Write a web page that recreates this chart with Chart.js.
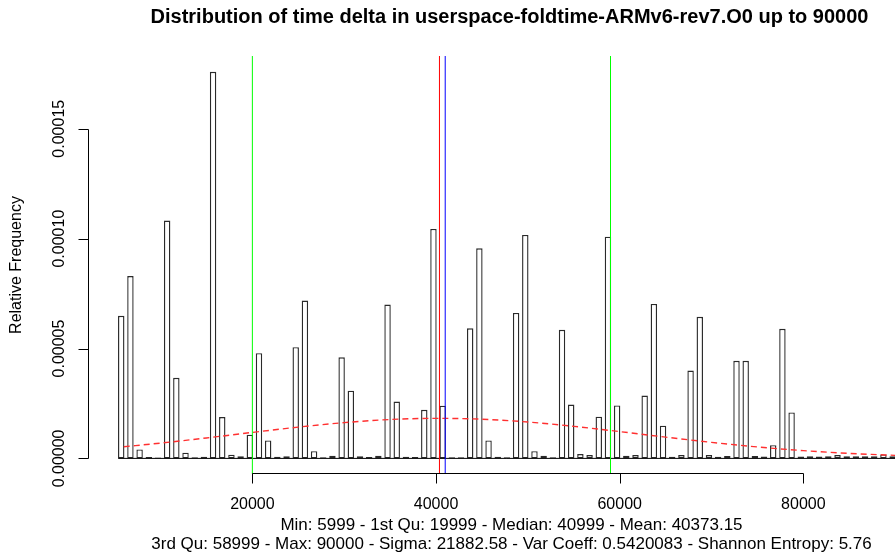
<!DOCTYPE html>
<html>
<head>
<meta charset="utf-8">
<script src="https://cdn.jsdelivr.net/npm/chart.js@4/dist/chart.umd.min.js"></script>
<style>
  html, body { margin: 0; padding: 0; overflow: hidden; background: #fff; }
</style>
</head>
<body>
<canvas id="histchart" width="960" height="555"></canvas>
<script>
// histogram of time delta, one bar per 1000 units (bar mid points)
const binMids = [
  5720, 6720, 7720, 8720, 9720, 10720, 11720, 12720, 13720, 14720,
  15720, 16720, 17720, 18720, 19720, 20720, 21720, 22720, 23720, 24720,
  25720, 26720, 27720, 28720, 29720, 30720, 31720, 32720, 33720, 34720,
  35720, 36720, 37720, 38720, 39720, 40720, 41720, 42720, 43720, 44720,
  45720, 46720, 47720, 48720, 49720, 50720, 51720, 52720, 53720, 54720,
  55720, 56720, 57720, 58720, 59720, 60720, 61720, 62720, 63720, 64720,
  65720, 66720, 67720, 68720, 69720, 70720, 71720, 72720, 73720, 74720,
  75720, 76720, 77720, 78720, 79720, 80720, 81720, 82720, 83720, 84720,
  85720, 86720, 87720, 88720, 89720
]
const relFreq = [
  6.49e-5, 8.30e-5, 4.1e-6, 6e-7, 4e-7, 1.082e-4, 3.67e-5, 2.6e-6, 5e-7, 7e-7,
  1.759e-4, 1.88e-5, 1.7e-6, 1.0e-6, 1.08e-5, 4.79e-5, 8.2e-6, 8e-7, 1.0e-6, 5.06e-5,
  7.18e-5, 3.3e-6, 5e-7, 1.2e-6, 4.60e-5, 3.08e-5, 1.0e-6, 6e-7, 1.2e-6, 7.00e-5,
  2.59e-5, 8e-7, 6e-7, 2.21e-5, 1.044e-4, 2.40e-5, 5e-7, 5e-7, 5.92e-5, 9.56e-5,
  8.2e-6, 8e-7, 5e-7, 6.62e-5, 1.017e-4, 3.3e-6, 1.2e-6, 5e-7, 5.85e-5, 2.45e-5,
  2.0e-6, 1.5e-6, 1.90e-5, 1.009e-4, 2.41e-5, 1.2e-6, 1.5e-6, 2.86e-5, 7.03e-5, 1.49e-5,
  8e-7, 1.5e-6, 4.00e-5, 6.44e-5, 1.5e-6, 8e-7, 1.1e-6, 4.44e-5, 4.44e-5, 1.1e-6,
  9e-7, 6.0e-6, 5.90e-5, 2.09e-5, 9e-7, 1.0e-6, 9e-7, 1.0e-6, 1.5e-6, 1.0e-6,
  1.0e-6, 1.0e-6, 1.0e-6, 1.8e-6, 1.0e-6
]

// normal density curve
const curveX = [5999, 10000, 15000, 20000, 25000, 30000, 35000, 40000, 45000,
  50000, 55000, 60000, 65000, 70000, 75000, 80000, 85000, 90000]
const curveY = [5.31e-6, 6.96e-6, 9.31e-6, 1.182e-5, 1.424e-5, 1.629e-5, 1.769e-5, 1.823e-5, 1.783e-5,
  1.655e-5, 1.458e-5, 1.219e-5, 9.68e-6, 7.29e-6, 5.21e-6, 3.54e-6, 2.28e-6, 1.39e-6]

// summary markers
const firstQu = 19999
const thirdQu = 58999
const meanVal = 40373.15
const medianVal = 40999

const xTicks = [20000, 40000, 60000, 80000]
const yTicks = [0, 0.00005, 0.0001, 0.00015]
const yTickLabels = ['0.00000', '0.00005', '0.00010', '0.00015']

const xMin = 2100
const xMax = 93900
const yMin = -0.0000071
const yMax = 0.0001831

const titleText = 'Distribution of time delta in userspace-foldtime-ARMv6-rev7.O0 up to 90000'
const yLabel = 'Relative Frequency'
const subLines = [
  'Min: 5999 - 1st Qu: 19999 - Median: 40999 - Mean: 40373.15',
  '3rd Qu: 58999 - Max: 90000 - Sigma: 21882.58 - Var Coeff: 0.5420083 - Shannon Entropy: 5.76'
]

const FONT = '"Liberation Sans", Arial, Helvetica, sans-serif'

const vline = (x, color) => ({
  type: 'line',
  data: [{ x: x, y: yMin }, { x: x, y: yMax }],
  borderColor: color,
  borderWidth: 1,
  pointRadius: 0,
  order: 0,
})

// R style axes and texts
const rAxes = {
  id: 'rAxes',
  afterDraw(chart) {
    const { ctx, chartArea } = chart
    const xs = chart.scales.x
    const ys = chart.scales.y
    const midX = (chartArea.left + chartArea.right) / 2
    ctx.save()
    ctx.strokeStyle = '#000'
    ctx.fillStyle = '#000'
    ctx.lineWidth = 1

    // y axis
    const ax = Math.round(chartArea.left) + 0.5
    const yTop = ys.getPixelForValue(yTicks[yTicks.length - 1])
    const yBot = ys.getPixelForValue(yTicks[0])
    ctx.beginPath()
    ctx.moveTo(ax, Math.round(yBot) + 0.5)
    ctx.lineTo(ax, Math.round(yTop) + 0.5)
    yTicks.forEach((t) => {
      const py = Math.round(ys.getPixelForValue(t)) + 0.5
      ctx.moveTo(ax, py)
      ctx.lineTo(ax - 10, py)
    })
    ctx.stroke()

    ctx.font = '16px ' + FONT
    ctx.textAlign = 'center'
    ctx.textBaseline = 'alphabetic'
    yTicks.forEach((t, i) => {
      ctx.save()
      ctx.translate(63.5, ys.getPixelForValue(t))
      ctx.rotate(-Math.PI / 2)
      ctx.fillText(yTickLabels[i], 0, 0)
      ctx.restore()
    })

    // x axis
    const ay = Math.round(chartArea.bottom) - 0.5
    const x0 = Math.round(xs.getPixelForValue(xTicks[0])) + 0.5
    const x1 = Math.round(xs.getPixelForValue(xTicks[xTicks.length - 1])) + 0.5
    ctx.beginPath()
    ctx.moveTo(x0, ay)
    ctx.lineTo(x1, ay)
    xTicks.forEach((t) => {
      const px = Math.round(xs.getPixelForValue(t)) + 0.5
      ctx.moveTo(px, ay)
      ctx.lineTo(px, ay + 10)
    })
    ctx.stroke()
    xTicks.forEach((t) => {
      ctx.fillText(String(t), xs.getPixelForValue(t), 509)
    })

    // y label
    ctx.save()
    ctx.translate(21, (chartArea.top + chartArea.bottom) / 2)
    ctx.rotate(-Math.PI / 2)
    ctx.fillText(yLabel, 0, 0)
    ctx.restore()

    // sub lines
    ctx.font = '17px ' + FONT
    ctx.fillText(subLines[0], midX + 2, 530)
    ctx.fillText(subLines[1], midX + 2, 549)

    // title
    ctx.font = 'bold 20px ' + FONT
    ctx.fillText(titleText, midX, 23)
    ctx.restore()
  }
}

const barData = binMids.map((x, i) => ({ x: x, y: relFreq[i] }))
const curveData = curveX.map((x, i) => ({ x: x, y: curveY[i] }))

const ctx = document.getElementById('histchart').getContext('2d')
const chart = new Chart(ctx, {
  type: 'bar',
  data: {
    datasets: [
      vline(firstQu, '#00ff00'),
      vline(thirdQu, '#00ff00'),
      vline(meanVal, '#ff0000'),
      vline(medianVal, '#0000ff'),
      {
        type: 'line',
        data: curveData,
        borderColor: '#ff3030',
        borderWidth: 1.4,
        borderDash: [6, 4],
        pointRadius: 0,
        cubicInterpolationMode: 'monotone',
        order: 1,
      },
      {
        // baseline under the bars
        type: 'line',
        data: [{ x: binMids[0] - 330, y: 0 }, { x: binMids[binMids.length - 1] + 330, y: 0 }],
        borderColor: '#000',
        borderWidth: 1,
        pointRadius: 0,
        order: 2,
      },
      {
        type: 'bar',
        data: barData,
        backgroundColor: '#ffffff',
        borderColor: '#2a2a2a',
        borderWidth: 1.4,
        borderSkipped: false,
        categoryPercentage: 1,
        barPercentage: 0.7,
        order: 3,
      },
    ]
  },
  options: {
    responsive: false,
    animation: false,
    layout: {
      padding: { left: 88, right: 29, top: 56, bottom: 81 }
    },
    plugins: {
      legend: { display: false },
      tooltip: { enabled: false },
    },
    scales: {
      x: {
        type: 'linear',
        min: xMin,
        max: xMax,
        offset: false,
        display: false,
      },
      y: {
        type: 'linear',
        min: yMin,
        max: yMax,
        display: false,
      }
    }
  },
  plugins: [rAxes]
})
</script>
</body>
</html>
